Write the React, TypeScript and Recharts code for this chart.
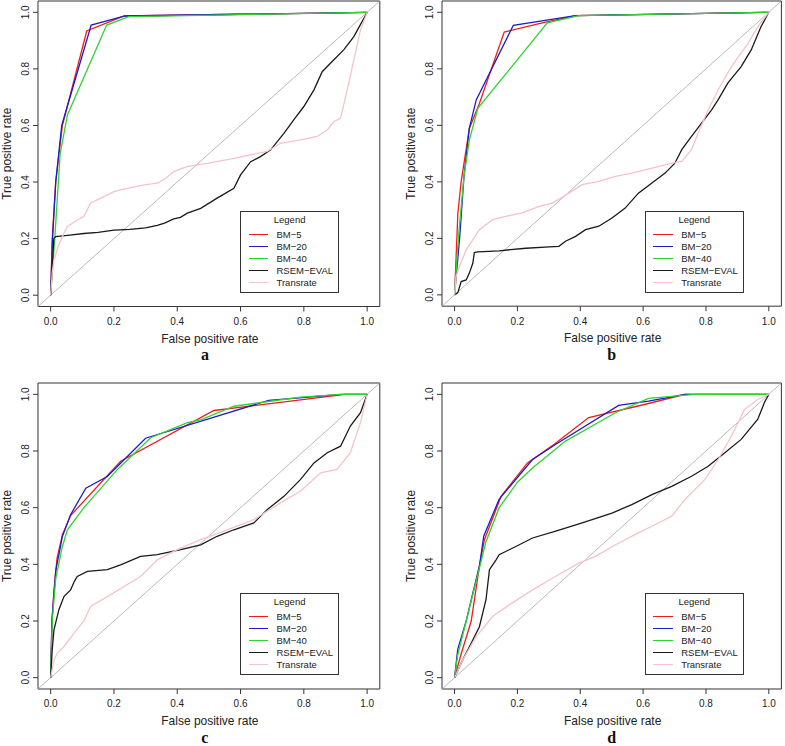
import React from 'react';
import {
  LineChart,
  Line,
  XAxis,
  YAxis,
  ReferenceArea,
  ReferenceLine,
  Legend,
} from 'recharts';

type Pt = [number, number];

const TICKS = [0, 0.2, 0.4, 0.6, 0.8, 1];
const SERIES_NAMES = ['BM−5', 'BM−20', 'BM−40', 'RSEM−EVAL', 'Transrate'];
const SERIES_COLORS = ['#f01c1c', '#1c1cc8', '#2fd42f', '#1a1a1a', '#f6c2ca'];
const PANEL_LETTERS = ['a', 'b', 'c', 'd'];

// panel a
const A_BM5: Pt[] = [[0, 0], [0.005, 0.2], [0.016, 0.4], [0.037, 0.6], [0.114, 0.934], [0.232, 0.987], [1, 1]];
const A_BM20: Pt[] = [[0, 0], [0.005, 0.18], [0.016, 0.4], [0.035, 0.6], [0.128, 0.955], [0.235, 0.987], [1, 1]];
const A_BM40: Pt[] = [[0, 0], [0.013, 0.2], [0.03, 0.5], [0.053, 0.637], [0.177, 0.955], [0.247, 0.985], [1, 1]];
const A_RSEM: Pt[] = [
  [0, 0], [0.01, 0.2], [0.016, 0.207], [0.06, 0.212], [0.105, 0.218], [0.15, 0.222], [0.2, 0.23],
  [0.25, 0.233], [0.3, 0.238], [0.337, 0.247], [0.36, 0.255], [0.389, 0.27], [0.41, 0.275],
  [0.432, 0.29], [0.474, 0.307], [0.526, 0.343], [0.579, 0.378], [0.6, 0.425], [0.632, 0.472],
  [0.663, 0.49], [0.695, 0.514], [0.737, 0.572], [0.768, 0.62], [0.8, 0.667], [0.832, 0.726],
  [0.858, 0.79], [0.884, 0.82], [0.926, 0.867], [0.958, 0.914], [0.984, 0.967], [1, 1],
];
const A_TR: Pt[] = [
  [0, 0], [0.005, 0.08], [0.0105, 0.125], [0.026, 0.178], [0.042, 0.219], [0.053, 0.243],
  [0.084, 0.266], [0.105, 0.278], [0.126, 0.325], [0.158, 0.343], [0.2, 0.366], [0.242, 0.378],
  [0.295, 0.39], [0.337, 0.396], [0.36, 0.41], [0.389, 0.437], [0.432, 0.455], [0.495, 0.466],
  [0.579, 0.484], [0.684, 0.508], [0.726, 0.537], [0.789, 0.549], [0.842, 0.561], [0.874, 0.584],
  [0.895, 0.614], [0.916, 0.625], [0.937, 0.726], [0.958, 0.832], [0.979, 0.937], [1, 1],
];

// panel b
const B_BM5: Pt[] = [[0, 0], [0.0105, 0.289], [0.021, 0.401], [0.047, 0.589], [0.079, 0.677], [0.158, 0.93], [0.269, 0.96], [0.385, 0.988], [1, 1]];
const B_BM20: Pt[] = [[0, 0], [0.016, 0.2], [0.03, 0.42], [0.047, 0.59], [0.069, 0.69], [0.187, 0.954], [0.385, 0.988], [1, 1]];
const B_BM40: Pt[] = [[0, 0], [0.012, 0.2], [0.03, 0.42], [0.047, 0.548], [0.074, 0.66], [0.295, 0.963], [0.396, 0.988], [1, 1]];
const B_RSEM: Pt[] = [
  [0, 0], [0.0105, 0.008], [0.021, 0.047], [0.037, 0.053], [0.047, 0.077], [0.058, 0.112],
  [0.063, 0.15], [0.074, 0.152], [0.142, 0.156], [0.227, 0.165], [0.301, 0.17], [0.332, 0.172],
  [0.353, 0.19], [0.385, 0.207], [0.417, 0.231], [0.459, 0.243], [0.501, 0.272], [0.543, 0.307],
  [0.585, 0.36], [0.628, 0.396], [0.67, 0.431], [0.701, 0.466], [0.723, 0.514], [0.754, 0.561],
  [0.786, 0.608], [0.818, 0.655], [0.839, 0.691], [0.87, 0.75], [0.912, 0.808], [0.944, 0.867],
  [0.975, 0.949], [1, 1],
];
const B_TR: Pt[] = [
  [0, 0], [0.005, 0.066], [0.016, 0.101], [0.037, 0.16], [0.058, 0.195], [0.079, 0.231],
  [0.121, 0.266], [0.163, 0.278], [0.216, 0.29], [0.269, 0.313], [0.311, 0.325], [0.364, 0.36],
  [0.406, 0.39], [0.459, 0.402], [0.512, 0.419], [0.564, 0.431], [0.628, 0.449], [0.691, 0.466],
  [0.723, 0.472], [0.754, 0.514], [0.775, 0.572], [0.807, 0.655], [0.839, 0.726], [0.881, 0.808],
  [0.934, 0.89], [0.965, 0.949], [1, 1],
];

// panel c
const C_BM5: Pt[] = [[0, 0], [0.004, 0.2], [0.01, 0.3], [0.02, 0.42], [0.037, 0.505], [0.063, 0.572], [0.221, 0.764], [0.516, 0.943], [0.93, 1], [1, 1]];
const C_BM20: Pt[] = [[0, 0], [0.004, 0.2], [0.0158, 0.376], [0.037, 0.498], [0.063, 0.575], [0.111, 0.669], [0.179, 0.71], [0.3, 0.845], [0.689, 0.979], [0.92, 1], [1, 1]];
const C_BM40: Pt[] = [[0, 0], [0.005, 0.2], [0.016, 0.35], [0.037, 0.463], [0.053, 0.522], [0.105, 0.6], [0.211, 0.735], [0.316, 0.847], [0.432, 0.9], [0.474, 0.91], [0.579, 0.958], [0.789, 0.99], [0.916, 1], [1, 1]];
const C_RSEM: Pt[] = [
  [0, 0], [0.005, 0.1], [0.0105, 0.169], [0.026, 0.24], [0.042, 0.286], [0.063, 0.31], [0.075, 0.34],
  [0.084, 0.357], [0.116, 0.375], [0.179, 0.381], [0.221, 0.398], [0.284, 0.428], [0.337, 0.434],
  [0.411, 0.452], [0.474, 0.469], [0.526, 0.499], [0.579, 0.522], [0.642, 0.546], [0.684, 0.593],
  [0.737, 0.64], [0.789, 0.699], [0.832, 0.758], [0.874, 0.794], [0.916, 0.817], [0.947, 0.888],
  [0.979, 0.935], [1, 1],
];
const C_TR: Pt[] = [
  [0, 0], [0.0105, 0.063], [0.021, 0.086], [0.042, 0.11], [0.074, 0.157], [0.105, 0.2],
  [0.126, 0.251], [0.179, 0.286], [0.232, 0.322], [0.284, 0.357], [0.337, 0.416], [0.4, 0.452],
  [0.474, 0.487], [0.558, 0.522], [0.642, 0.558], [0.726, 0.617], [0.789, 0.658], [0.853, 0.723],
  [0.905, 0.735], [0.947, 0.794], [0.979, 0.9], [1, 1],
];

// panel d
const D_BM5: Pt[] = [[0, 0], [0.02, 0.08], [0.053, 0.2], [0.08, 0.4], [0.095, 0.487], [0.148, 0.64], [0.232, 0.758], [0.316, 0.823], [0.427, 0.918], [0.607, 0.965], [0.733, 1], [1, 1]];
const D_BM20: Pt[] = [[0, 0], [0.01, 0.1], [0.037, 0.2], [0.08, 0.4], [0.093, 0.5], [0.142, 0.63], [0.248, 0.77], [0.321, 0.823], [0.522, 0.961], [0.617, 0.976], [0.733, 1], [1, 1]];
const D_BM40: Pt[] = [[0, 0], [0.01, 0.08], [0.037, 0.2], [0.082, 0.4], [0.1, 0.48], [0.142, 0.6], [0.2, 0.69], [0.248, 0.74], [0.353, 0.835], [0.512, 0.935], [0.617, 0.986], [0.765, 1], [1, 1]];
const D_RSEM: Pt[] = [
  [0, 0], [0.026, 0.063], [0.058, 0.133], [0.079, 0.18], [0.1, 0.275], [0.111, 0.381], [0.132, 0.416],
  [0.142, 0.434], [0.195, 0.463], [0.248, 0.493], [0.322, 0.517], [0.406, 0.546], [0.501, 0.581],
  [0.564, 0.611], [0.628, 0.646], [0.691, 0.675], [0.754, 0.711], [0.807, 0.746], [0.86, 0.794],
  [0.912, 0.841], [0.965, 0.912], [0.986, 0.971], [1, 1],
];
const D_TR: Pt[] = [
  [0, 0], [0.026, 0.063], [0.069, 0.145], [0.121, 0.216], [0.174, 0.257], [0.248, 0.31],
  [0.311, 0.351], [0.396, 0.404], [0.448, 0.428], [0.512, 0.469], [0.585, 0.511], [0.649, 0.546],
  [0.691, 0.57], [0.733, 0.629], [0.796, 0.699], [0.839, 0.77], [0.881, 0.853], [0.923, 0.947],
  [0.965, 0.982], [1, 1],
];

const PANEL_DATA: Pt[][][] = [
  [A_BM5, A_BM20, A_BM40, A_RSEM, A_TR],
  [B_BM5, B_BM20, B_BM40, B_RSEM, B_TR],
  [C_BM5, C_BM20, C_BM40, C_RSEM, C_TR],
  [D_BM5, D_BM20, D_BM40, D_RSEM, D_TR],
];

const FONT = '"Liberation Sans", Arial, Helvetica, sans-serif';
const YW = 38; // room left of the box for ticks and title
const MT = 1;
const XH = 60; // room under the box
const LO = -0.04;
const HI = 1.04;

// box placement of each panel on the page
const BOXES = [
  { left: 37.6, top: 1, w: 341.8, h: 305.5, letterDx: -4 },
  { left: 442.3, top: 1, w: 339.4, h: 305.2, letterDx: 0 },
  { left: 37.6, top: 383.3, w: 341.8, h: 306, letterDx: -4 },
  { left: 442.3, top: 383.3, w: 339.4, h: 306, letterDx: 0 },
];

const XTick = (p: any) => (
  <text x={p.x} y={p.y} dy={13.5} textAnchor="middle" fontSize={10} fill="#222" fontFamily={FONT}>
    {Number(p.payload.value).toFixed(1)}
  </text>
);

const YTick = (p: any) => {
  const cx = p.x - 7.7;
  return (
    <text
      x={cx}
      y={p.y}
      dy="0.35em"
      textAnchor="middle"
      fontSize={10}
      fill="#222"
      fontFamily={FONT}
      transform={`rotate(-90 ${cx} ${p.y})`}
    >
      {Number(p.payload.value).toFixed(1)}
    </text>
  );
};

const renderLegend = (props: any) => {
  // keep the plotting order, not the alphabetical one
  const items = [...(props.payload || [])].sort(
    (a: any, b: any) => SERIES_NAMES.indexOf(a.value) - SERIES_NAMES.indexOf(b.value),
  );
  return (
    <div
      style={{
        width: 99,
        height: 82.6,
        border: '1px solid #333',
        boxSizing: 'border-box',
        background: '#fff',
        fontFamily: FONT,
        fontSize: 9.5,
        color: '#222',
        position: 'relative',
      }}
    >
      <div style={{ position: 'absolute', top: 2.6, left: 0, width: '100%', textAlign: 'center', lineHeight: '11px' }}>
        Legend
      </div>
      {items.map((e: any, i: number) => (
        <div
          key={e.value}
          style={{
            position: 'absolute',
            top: 17.6 + i * 11.9,
            left: 7.5,
            height: 11,
            display: 'flex',
            alignItems: 'center',
            lineHeight: '11px',
            whiteSpace: 'nowrap',
          }}
        >
          <span style={{ display: 'inline-block', width: 19.4, height: 0, borderTop: `1.5px solid ${e.color}` }} />
          <span style={{ marginLeft: 8.5 }}>{e.value}</span>
        </div>
      ))}
    </div>
  );
};

function Panel({ idx }: { idx: number }) {
  const b = BOXES[idx];
  const width = YW + b.w + 4;
  const height = MT + b.h + XH;
  const series = PANEL_DATA[idx];
  return (
    <div style={{ position: 'absolute', left: b.left - YW, top: b.top - MT }}>
      <LineChart width={width} height={height} margin={{ top: MT, right: 4, bottom: 0, left: 0 }}>
        <XAxis
          type="number"
          dataKey="x"
          domain={[LO, HI]}
          ticks={TICKS}
          allowDataOverflow
          height={XH}
          axisLine={false}
          tickSize={5}
          tickMargin={0}
          tickLine={{ stroke: '#333' }}
          tick={<XTick />}
          interval={0}
          label={{
            content: (p: any) => {
              const vb = p.viewBox || {};
              const cx = vb.x + vb.width / 2;
              return (
                <g>
                  <text x={cx + 1} y={vb.y + 32} dy="0.35em" textAnchor="middle" fontSize={12} fill="#222" fontFamily={FONT}>
                    False positive rate
                  </text>
                  <text
                    x={cx + b.letterDx}
                    y={vb.y + 48}
                    dy="0.35em"
                    textAnchor="middle"
                    fontSize={16}
                    fontWeight="bold"
                    fill="#111"
                    fontFamily='"Liberation Serif", "Times New Roman", serif'
                  >
                    {PANEL_LETTERS[idx]}
                  </text>
                </g>
              );
            },
          }}
        />
        <YAxis
          type="number"
          domain={[LO, HI]}
          ticks={TICKS}
          allowDataOverflow
          width={YW}
          axisLine={false}
          tickSize={5}
          tickMargin={0}
          tickLine={{ stroke: '#333' }}
          tick={<YTick />}
          interval={0}
          label={{
            content: (p: any) => {
              const vb = p.viewBox || {};
              const cx = vb.x + vb.width - 30.7;
              const cy = vb.y + vb.height / 2;
              return (
                <text
                  x={cx}
                  y={cy}
                  dy="0.35em"
                  textAnchor="middle"
                  fontSize={12}
                  fill="#222"
                  fontFamily={FONT}
                  transform={`rotate(-90 ${cx} ${cy})`}
                >
                  True positive rate
                </text>
              );
            },
          }}
        />
        <ReferenceLine
          segment={[{ x: LO, y: LO }, { x: HI, y: HI }]}
          stroke="#a8a8a8"
          strokeWidth={0.8}
          ifOverflow="visible"
        />
        {series.map((pts, i) => (
          <Line
            key={SERIES_NAMES[i]}
            name={SERIES_NAMES[i]}
            data={pts.map(([x, y]) => ({ x, y }))}
            dataKey="y"
            type="linear"
            stroke={SERIES_COLORS[i]}
            strokeWidth={1.3}
            dot={false}
            activeDot={false}
            isAnimationActive={false}
          />
        ))}
        <ReferenceArea
          x1={LO}
          x2={HI}
          y1={LO}
          y2={HI}
          fill="none"
          fillOpacity={0}
          stroke="#333"
          strokeWidth={1}
          ifOverflow="visible"
        />
        <Legend
          layout="vertical"
          align="center"
          verticalAlign="middle"
          itemSorter={null as any}
          content={renderLegend}
          wrapperStyle={{ position: 'absolute', left: YW + 202.5, top: MT + 209.5, width: 99, height: 82.6 }}
        />
      </LineChart>
    </div>
  );
}

export default function App() {
  return (
    <div style={{ position: 'relative', width: 785, height: 746, background: '#fff', overflow: 'hidden' }}>
      <style>{'body{margin:0}'}</style>
      {[0, 1, 2, 3].map((i) => (
        <Panel key={i} idx={i} />
      ))}
    </div>
  );
}
